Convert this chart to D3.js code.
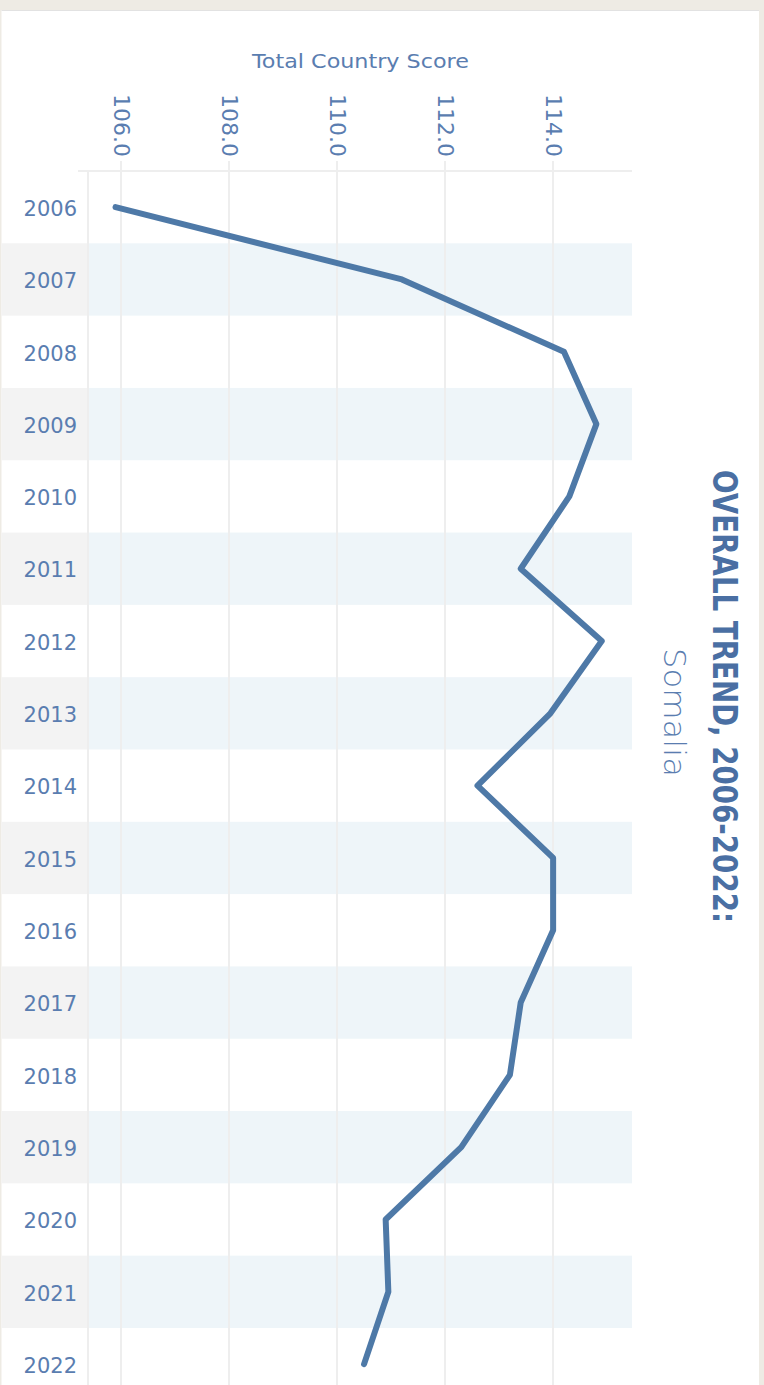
<!DOCTYPE html>
<html>
<head>
<meta charset="utf-8">
<script src="https://cdn.jsdelivr.net/npm/d3@7"></script>
<style>
    body { margin: 0; background: #eeebe4; overflow: hidden; }
    text { font-family: "DejaVu Sans", sans-serif; }
</style>
</head>
<body>
<div id="plot"></div>
<script>
const years = [2006, 2007, 2008, 2009, 2010, 2011, 2012, 2013, 2014, 2015, 2016, 2017, 2018, 2019, 2020, 2021, 2022];
const scores = [105.9, 111.2, 114.2, 114.8, 114.3, 113.4, 114.9, 113.95, 112.6, 114.0, 114.0, 113.4, 113.2, 112.3, 110.9, 110.95, 110.5];
const scoreTicks = [106, 108, 110, 112, 114];
const axisTitle = "Total Country Score";
const chartTitle = "OVERALL TREND, 2006-2022:";
const countryName = "Somalia";

const width = 764, height = 1385;
const plot = { left: 88, right: 632, top: 171, rowHeight: 72.31 };
const colors = {
    line: "#4e79a7",
    text: "#5a7db0",
    title: "#4a6fa3",
    grid: "#eeeeee",
    bandPlot: "#eef5f9",
    bandLabel: "#f3f3f3",
};

const svg = d3.select("#plot").append("svg")
    .attr("width", width)
    .attr("height", height);

// page frame
svg.append("rect").attr("width", width).attr("height", height).attr("fill", "#eeebe4");
svg.append("rect")
    .attr("x", 1.5).attr("y", 10)
    .attr("width", 757.5).attr("height", height - 10)
    .attr("fill", "#ffffff");
svg.append("line")
    .attr("x1", 1.5).attr("x2", 759).attr("y1", 10.5).attr("y2", 10.5)
    .attr("stroke", "#e2e2e2").attr("stroke-width", 1);

const xScale = d3.scaleLinear()
    .domain([105.39, 115.46])
    .range([plot.left, plot.right]);

const yScale = d3.scaleBand()
    .domain(years)
    .range([plot.top, plot.top + plot.rowHeight * years.length])
    .padding(0);

// alternating row bands
const bands = svg.append("g");
years.forEach((y, i) => {
    if (i % 2 === 0) return;
    bands.append("rect")
        .attr("x", 1.5).attr("y", yScale(y))
        .attr("width", plot.left - 1.5).attr("height", yScale.bandwidth())
        .attr("fill", colors.bandLabel);
    bands.append("rect")
        .attr("x", plot.left).attr("y", yScale(y))
        .attr("width", plot.right - plot.left).attr("height", yScale.bandwidth())
        .attr("fill", colors.bandPlot);
});

// grid
const grid = svg.append("g")
    .attr("stroke", colors.grid)
    .attr("stroke-width", 1.5)
    .attr("shape-rendering", "crispEdges");
grid.selectAll("line.v")
    .data(scoreTicks)
    .join("line")
    .attr("class", "v")
    .attr("x1", d => xScale(d)).attr("x2", d => xScale(d))
    .attr("y1", plot.top - 10).attr("y2", height);
grid.append("line")
    .attr("x1", plot.left).attr("x2", plot.left)
    .attr("y1", plot.top).attr("y2", height);
grid.append("line")
    .attr("x1", plot.left - 10).attr("x2", plot.right)
    .attr("y1", plot.top).attr("y2", plot.top);

// x axis (top), labels rotated
const xAxis = svg.append("g")
    .attr("transform", `translate(0,${plot.top})`)
    .call(d3.axisTop(xScale).tickValues(scoreTicks).tickFormat(d3.format(".1f")).tickSize(0));
xAxis.select(".domain").remove();
xAxis.selectAll("text")
    .attr("transform", "rotate(90)")
    .attr("x", -77).attr("y", 0).attr("dy", null)
    .attr("text-anchor", "start")
    .attr("dominant-baseline", "central")
    .attr("fill", colors.text)
    .style("font-size", "22px");

svg.append("text")
    .attr("x", 360.5).attr("y", 68)
    .attr("text-anchor", "middle")
    .attr("fill", colors.text)
    .style("font-size", "20px")
    .attr("textLength", 217)
    .attr("lengthAdjust", "spacingAndGlyphs")
    .text(axisTitle);

// y axis (years)
const yAxis = svg.append("g")
    .attr("transform", "translate(77,2)")
    .call(d3.axisLeft(yScale).tickSize(0).tickPadding(0));
yAxis.select(".domain").remove();
yAxis.selectAll("text")
    .attr("fill", colors.text)
    .style("font-size", "21px");

// trend line
const line = d3.line()
    .x(d => xScale(d.score))
    .y(d => yScale(d.year) + yScale.bandwidth() / 2);

svg.append("path")
    .datum(years.map((year, i) => ({ year, score: scores[i] })))
    .attr("d", line)
    .attr("fill", "none")
    .attr("stroke", colors.line)
    .attr("stroke-width", 6)
    .attr("stroke-linejoin", "round")
    .attr("stroke-linecap", "round");

// rotated title on the right
svg.append("text")
    .attr("transform", "translate(725,470) rotate(90)")
    .attr("dominant-baseline", "central")
    .attr("fill", colors.title)
    .style("font-size", "34px")
    .style("font-weight", "bold")
    .attr("textLength", 453)
    .attr("lengthAdjust", "spacingAndGlyphs")
    .text(chartTitle);

svg.append("text")
    .attr("transform", "translate(675,648) rotate(90)")
    .attr("dominant-baseline", "central")
    .attr("fill", colors.text)
    .style("font-size", "31px")
    .style("font-weight", 300)
    .attr("textLength", 129)
    .attr("lengthAdjust", "spacingAndGlyphs")
    .text(countryName);
</script>
</body>
</html>
